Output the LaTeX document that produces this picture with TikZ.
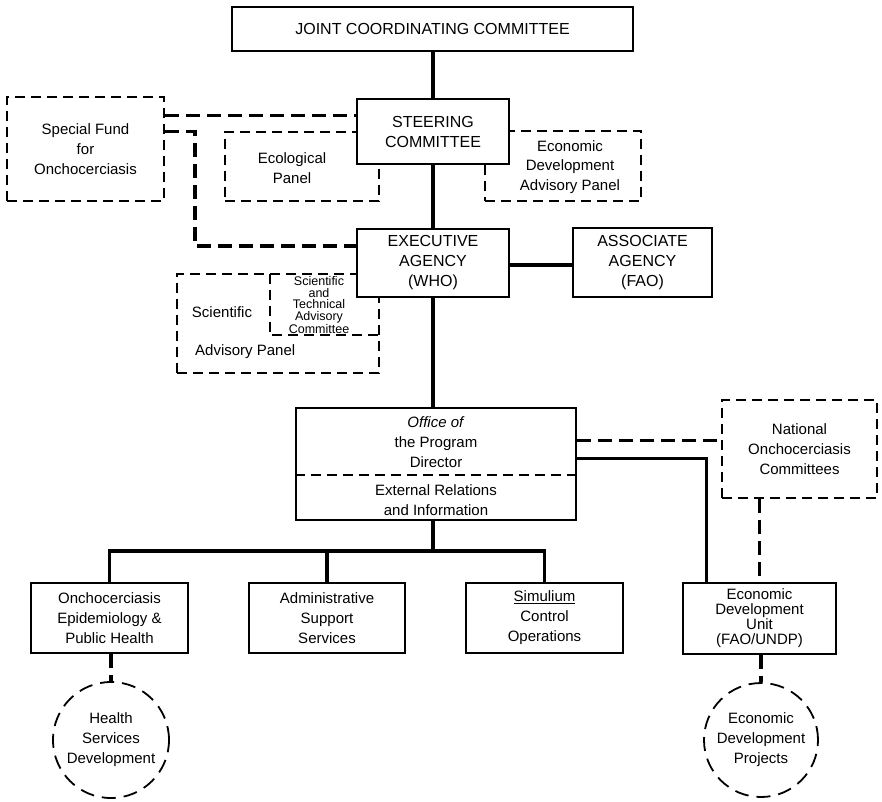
\documentclass[tikz,border=0pt]{standalone}
\usepackage{fontspec}
\setmainfont{Liberation Sans}
\usetikzlibrary{calc}
\begin{document}
\begin{tikzpicture}[x=1pt,y=-1pt,
  box/.style={draw,line width=1.8pt,fill=white,inner sep=0pt,align=center,font=\fontsize{15}{20}\selectfont},
  capbox/.style={box,font=\fontsize{16}{20}\selectfont},
  dbox/.style={draw,line width=1.6pt,dash pattern=on 10pt off 6pt,inner sep=0pt},
  dline/.style={line width=1.6pt,dash pattern=on 10pt off 6pt},
  dcirc/.style={circle,draw,line width=1.8pt,dash pattern=on 14pt off 8pt,inner sep=0pt,align=center,font=\fontsize{15}{20}\selectfont},
  conn/.style={line width=3.2pt},
  dconn/.style={line width=3.2pt,dash pattern=on 14pt off 7pt},
  lbl/.style={align=center,inner sep=0pt,font=\fontsize{15}{20}\selectfont},
  tiny/.style={align=center,inner sep=0pt,font=\fontsize{12.5}{11.5}\selectfont}]
\useasboundingbox (0,0) rectangle (882,801);

% dashed panels (behind)
\node[dbox,minimum width=154,minimum height=69] (eco) at (302,166.5) {};
\node[lbl] (ecot) at (292,168) {Ecological\\Panel};
\node[dbox,minimum width=156,minimum height=70] (econadv) at (563,166) {};
\node[lbl,font=\fontsize{15}{19.5}\selectfont] (econadvt) at (570,167) {Economic\\Development\\Advisory Panel};
\node[dbox,minimum width=202,minimum height=99] (sci) at (278,323.5) {};
\node[inner sep=0pt,minimum width=109,minimum height=61] (stac) at (324.5,304.5) {};
\draw[dline] (stac.north west) -- (stac.south west) -- (stac.south east);
\node[tiny] (stact) at (319,305) {Scientific\\and\\Technical\\Advisory\\Committee};
\node[lbl] (scit1) at (222,312) {Scientific};
\node[lbl,anchor=west] (scit2) at (195,352) {Advisory Panel};

\node[dbox,minimum width=157,minimum height=104,align=center,font=\fontsize{15}{20}\selectfont] (fund) at (85.5,149) {Special Fund\\for\\Onchocerciasis};
\node[dbox,minimum width=155,minimum height=98,align=center,font=\fontsize{15}{20}\selectfont] (natl) at (799.5,449) {National\\Onchocerciasis\\Committees};

% solid boxes
\node[capbox,minimum width=401,minimum height=44] (jcc) at (432.5,29) {JOINT COORDINATING COMMITTEE};
\node[capbox,minimum width=152,minimum height=65] (steer) at (433,131.5) {STEERING\\COMMITTEE};
\node[capbox,minimum width=152,minimum height=68] (exec) at (433,263) {EXECUTIVE\\AGENCY\\(WHO)};
\node[capbox,minimum width=139,minimum height=69] (assoc) at (642.5,262.5) {ASSOCIATE\\AGENCY\\(FAO)};
\node[box,minimum width=280,minimum height=112] (office) at (436,464) {};
\draw[dline] (office.west |- 0,475) -- (office.east |- 0,475);
\node[lbl] (officet) at (436,442) {\textit{Office of}\\the Program\\Director};
\node[lbl] (extrel) at (436,500) {External Relations\\and Information};

\node[box,minimum width=157,minimum height=70] (onch) at (109.5,618) {Onchocerciasis\\Epidemiology \&\\Public Health};
\node[box,minimum width=156,minimum height=70] (admin) at (327,618) {Administrative\\Support\\Services};
\node[box,minimum width=157,minimum height=70] (simul) at (544.5,618) {\underline{Simulium}\\Control\\Operations};
\node[box,minimum width=153,minimum height=71,font=\fontsize{15}{15}\selectfont] (edu) at (759.5,618.5) {Economic\\Development\\Unit\\(FAO/UNDP)};

\node[dcirc,minimum size=116] (hsd) at (111,740) {Health\\Services\\Development};
\node[dcirc,minimum size=114] (edp) at (761,740) {Economic\\Development\\Projects};

% connectors
\draw[conn] (jcc.south -| steer.north) -- (steer.north);
\draw[conn] (steer) -- (exec);
\draw[conn] (exec.south) -- (exec.south |- office.north);
\draw[conn] (exec.east |- 0,265) -- (assoc.west |- 0,265);
\coordinate (f1) at ($(fund.north east)+(0,19)$);
\draw[dconn] (f1) -- (f1 -| steer.west);
\coordinate (f2) at ($(fund.north east)+(0,35)$);
\coordinate (f3) at (195,246);
\draw[dconn] (f2) -| (f3) -- (f3 -| exec.west);
\coordinate (o1) at ($(office.north east)+(0,33)$);
\draw[dconn] (o1) -- (o1 -| natl.west);
\coordinate (o2) at ($(office.north east)+(0,51)$);
\coordinate (e1) at ($(edu.north west)+(24,0)$);
\draw[conn] (o2) -| (e1);
\draw[dconn] (natl.south -| edu.north) -- (edu.north);
\draw[dconn] (edu.south -| edp.north) -- (edp.north);
\coordinate (bus) at (433,551);
\draw[conn] (exec.south |- office.south) -- (bus);
\draw[conn] (onch.north) |- (bus) -| (simul.north);
\draw[conn] (admin.north) -- (admin.north |- bus);
\draw[dconn] (onch.south -| hsd.north) -- (hsd.north);
\end{tikzpicture}
\end{document}
